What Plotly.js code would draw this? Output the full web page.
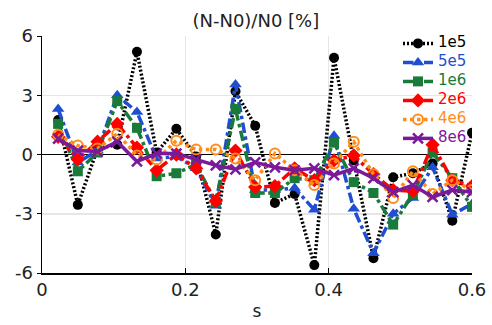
<!DOCTYPE html>
<html><head><meta charset="utf-8">
<script src="https://cdn.plot.ly/plotly-3.0.1.min.js"></script>
<style>html,body{margin:0;padding:0;background:#fff}#c{width:492px;height:325px}</style>
</head><body><div id="c"></div>
<script>
const s = [0.0225,0.05,0.0775,0.105,0.1325,0.16,0.1875,0.215,0.2425,0.27,0.2975,0.325,0.3525,0.38,0.4075,0.435,0.4625,0.49,0.5175,0.545,0.5725,0.6];
const v1e5 = [1.75,-2.55,0.3,0.5,5.2,0.1,1.3,-0.1,-4.05,3.2,1.45,-2.45,-2.0,-5.6,4.9,-0.3,-5.25,-1.15,-0.95,-0.45,-3.35,1.1];
const v5e5 = [2.3,-0.4,0.2,3.0,2.15,-0.2,-0.1,-0.7,-2.6,3.55,-1.8,-1.8,-1.7,-2.8,0.95,-2.75,-5.0,-3.0,-2.2,-0.65,-3.05,-2.5];
const v1e6 = [1.55,-0.85,0.1,2.7,1.35,-1.1,-0.95,-0.5,-2.4,2.3,-1.95,-1.95,-1.2,-1.3,0.6,-1.4,-1.95,-3.55,-2.0,0.1,-1.2,-2.65];
const v2e6 = [0.9,-0.25,0.65,1.55,0.35,-0.8,0.0,-0.7,-2.35,0.2,-1.65,-1.6,-0.7,-1.3,-0.3,-0.05,-1.0,-1.8,-1.85,0.5,-1.3,-1.6];
const v4e6 = [1.0,0.45,0.3,1.05,-0.05,-0.25,0.7,0.25,0.25,-0.2,-1.3,0.05,-0.8,-1.55,-0.45,0.65,-1.0,-2.2,-0.85,-2.0,-1.3,-1.8];
const v8e6 = [0.8,0.2,0.15,0.65,-0.35,0.05,0.05,-0.25,-0.55,-0.75,-0.4,-0.65,-0.8,-0.7,-1.05,-0.7,-1.2,-1.9,-1.55,-2.15,-1.8,-1.9];
const names = ['1e5','5e5','1e6','2e6','4e6','8e6'];
const series = [v1e5,v5e5,v1e6,v2e6,v4e6,v8e6];
const colors = ['#000000','#1f4fd0','#1a7a3a','#ff0000','#ff8c1a','#7a1a9a'];
const dashes = ['2px,2px','dashdot','dashdot','dashdot','dot','solid'];
const symbols = ['circle','triangle-up','square','diamond','circle-open','x-thin-open'];
const sizes = [10,11,10,11,10,10];
const traces = series.map((y,i)=>({
  x: s, y: y, type:'scatter', mode:'lines+markers',
  name: '<span style="color:'+colors[i]+';font-size:15px">'+names[i]+'</span>',
  line:{color:colors[i], width:3.5, dash:dashes[i]},
  marker:{color:colors[i], symbol:symbols[i], size:sizes[i], line:{color:colors[i], width: i===4?2:(i===5?2.5:0)}}
}));
const F = 'DejaVu Sans, sans-serif';
const layout = {
  width:492, height:325,
  margin:{l:42,r:20,t:36,b:52},
  paper_bgcolor:'#fff', plot_bgcolor:'#fff',
  title:{text:'(N-N0)/N0 [%]', x:0.52, xanchor:'center', y:0.955, font:{family:F, size:18, color:'#222'}},
  showlegend:true,
  legend:{x:1.0, xanchor:'right', y:1.03, yanchor:'top', bgcolor:'rgba(0,0,0,0)', font:{family:F, size:10}, tracegroupgap:0, itemwidth:30},
  xaxis:{range:[0,0.6], tickvals:[0,0.2,0.4,0.6], ticktext:['0','0.2','0.4','0.6'], showgrid:true, gridcolor:'#e6e6e6', gridwidth:1.5,
    showline:true, linecolor:'#000', linewidth:1.5, ticks:'inside', ticklen:5, tickcolor:'#000', zeroline:false,
    tickfont:{family:F, size:18, color:'#222'},
    title:{text:'s', font:{family:F, size:17, color:'#222'}, standoff:6}},
  yaxis:{range:[-6,6], tickvals:[-6,-3,0,3,6], ticktext:['-6','-3','0','3','6'], showgrid:true, gridcolor:'#e6e6e6', gridwidth:1.5,
    showline:true, linecolor:'#000', linewidth:1.5, ticks:'outside', ticklen:4, tickcolor:'#000',
    zeroline:true, zerolinecolor:'#000', zerolinewidth:1.5,
    tickfont:{family:F, size:18, color:'#222'}}
};
Plotly.newPlot('c', traces, layout, {displayModeBar:false, staticPlot:true});
</script></body></html>
